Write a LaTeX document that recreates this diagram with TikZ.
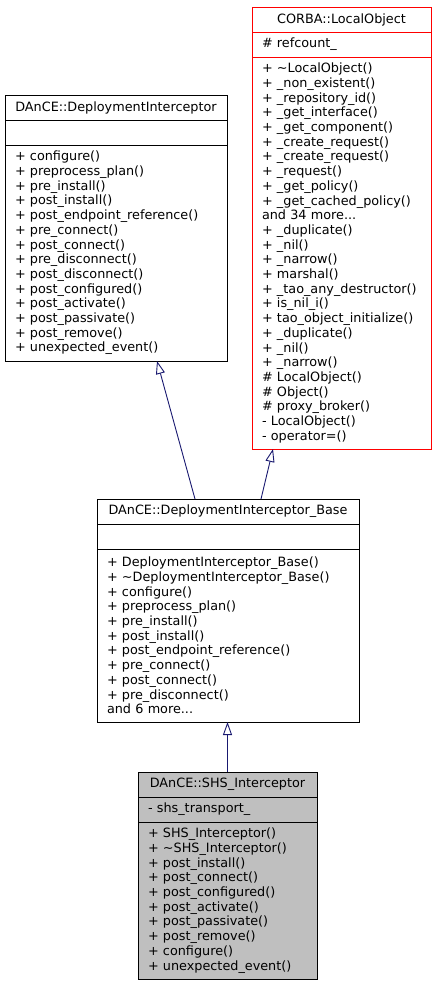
\documentclass[tikz,border=0pt]{standalone}
\usepackage{fontspec}
\setmainfont{DejaVu Sans}
\usetikzlibrary{arrows.meta,positioning}
\tikzset{
    part/.style={draw, anchor=north west, line width=0.9pt, outer sep=0pt, inner xsep=10pt, inner ysep=0pt,
                 align=left, font=\fontsize{12.8}{14.7}\selectfont},
    title/.style={part, align=center, minimum height=25pt},
    attrs/.style={part, minimum height=25pt},
    corba/.style={draw=red},
    current/.style={fill=black!25},
    inherit/.style={draw={rgb,255:red,25;green,25;blue,112}, line width=0.9pt,
                    -{Triangle[open, length=13pt, width=9pt, fill=white]}},
}

\begin{document}
\begin{tikzpicture}[x=1pt, y=-1pt]
    \useasboundingbox (0,0) rectangle (436,987);

    % DAnCE::DeploymentInterceptor
    \node[title, text width=202pt] (di-title) at (5,95) {DAnCE::DeploymentInterceptor};
    \node[attrs, text width=202pt] (di-attrs) at (di-title.south west) {};
    \node[part, text width=202pt, minimum height=216pt] (di-methods) at (di-attrs.south west) {%
        + configure()\\
        + preprocess\_plan()\\
        + pre\_install()\\
        + post\_install()\\
        + post\_endpoint\_reference()\\
        + pre\_connect()\\
        + post\_connect()\\
        + pre\_disconnect()\\
        + post\_disconnect()\\
        + post\_configured()\\
        + post\_activate()\\
        + post\_passivate()\\
        + post\_remove()\\
        + unexpected\_event()};

    % CORBA::LocalObject
    \node[title, corba, text width=159pt] (lo-title) at (252,7) {CORBA::LocalObject};
    \node[attrs, corba, text width=159pt] (lo-attrs) at (lo-title.south west) {\# refcount\_};
    \node[part, corba, text width=159pt, minimum height=392pt] (lo-methods) at (lo-attrs.south west) {%
        + \textasciitilde LocalObject()\\
        + \_non\_existent()\\
        + \_repository\_id()\\
        + \_get\_interface()\\
        + \_get\_component()\\
        + \_create\_request()\\
        + \_create\_request()\\
        + \_request()\\
        + \_get\_policy()\\
        + \_get\_cached\_policy()\\
        and 34 more...\\
        + \_duplicate()\\
        + \_nil()\\
        + \_narrow()\\
        + marshal()\\
        + \_tao\_any\_destructor()\\
        + is\_nil\_i()\\
        + tao\_object\_initialize()\\
        + \_duplicate()\\
        + \_nil()\\
        + \_narrow()\\
        \# LocalObject()\\
        \# Object()\\
        \# proxy\_broker()\\
        - LocalObject()\\
        - operator=()};

    % DAnCE::DeploymentInterceptor_Base
    \node[title, text width=242pt] (base-title) at (97,499) {DAnCE::DeploymentInterceptor\_Base};
    \node[attrs, text width=242pt] (base-attrs) at (base-title.south west) {};
    \node[part, text width=242pt, minimum height=173pt] (base-methods) at (base-attrs.south west) {%
        + DeploymentInterceptor\_Base()\\
        + \textasciitilde DeploymentInterceptor\_Base()\\
        + configure()\\
        + preprocess\_plan()\\
        + pre\_install()\\
        + post\_install()\\
        + post\_endpoint\_reference()\\
        + pre\_connect()\\
        + post\_connect()\\
        + pre\_disconnect()\\
        and 6 more...};

    % DAnCE::SHS_Interceptor
    \node[title, current, text width=159pt] (shs-title) at (138,772) {DAnCE::SHS\_Interceptor};
    \node[attrs, current, text width=159pt] (shs-attrs) at (shs-title.south west) {- shs\_transport\_};
    \node[part, current, text width=159pt, minimum height=157pt] (shs-methods) at (shs-attrs.south west) {%
        + SHS\_Interceptor()\\
        + \textasciitilde SHS\_Interceptor()\\
        + post\_install()\\
        + post\_connect()\\
        + post\_configured()\\
        + post\_activate()\\
        + post\_passivate()\\
        + post\_remove()\\
        + configure()\\
        + unexpected\_event()};

    % Inheritance
    \draw[inherit] ([xshift=98pt]base-title.north west) -- ([xshift=152pt]di-methods.south west);
    \draw[inherit] ([xshift=164pt]base-title.north west) -- ([xshift=21pt]lo-methods.south west);
    \draw[inherit] (shs-title.north) -- (shs-title.north |- base-methods.south);
\end{tikzpicture}
\end{document}
